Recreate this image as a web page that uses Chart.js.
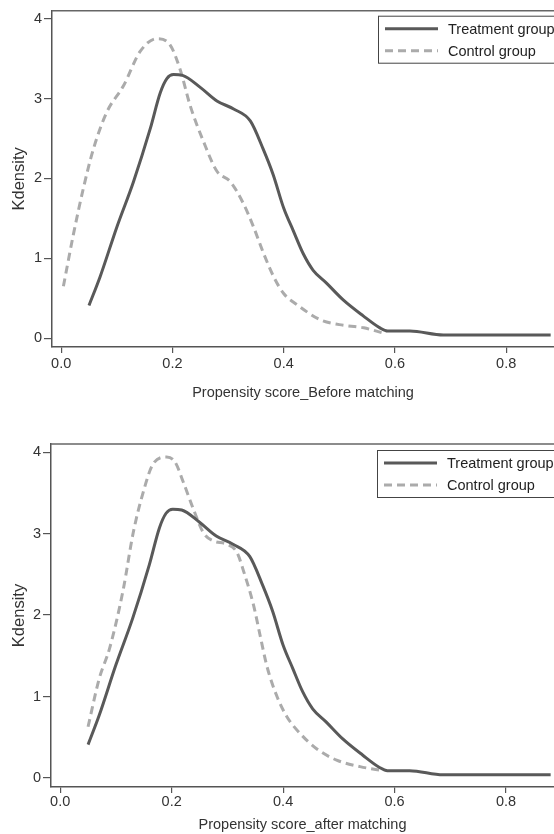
<!DOCTYPE html>
<html>
<head>
<meta charset="utf-8">
<script src="https://cdn.jsdelivr.net/npm/chart.js@4/dist/chart.umd.min.js"></script>
<style>
    html, body { margin: 0; padding: 0; background: #ffffff; overflow: hidden; }
    .panel { position: absolute; left: 0; }
    #panelBefore { top: 0; }
    #panelAfter { top: 405px; }
</style>
</head>
<body>
<div class="panel" id="panelBefore"><canvas id="chartBefore" width="554" height="405"></canvas></div>
<div class="panel" id="panelAfter"><canvas id="chartAfter" width="554" height="429"></canvas></div>

<script>
/* ==========================================
   Kernel density of propensity scores
   before / after matching
   ========================================== */

const xTicks = [0, 0.2, 0.4, 0.6, 0.8];
const yTicks = [0, 1, 2, 3, 4];

const seriesLabels = ["Treatment group", "Control group"];

// treatment group (same sample in both panels)
const treatmentX = [0.05, 0.07, 0.10, 0.13, 0.16, 0.178, 0.19, 0.202, 0.218, 0.25, 0.28, 0.31, 0.34, 0.363, 0.381, 0.40, 0.417, 0.435, 0.453, 0.477, 0.507, 0.543, 0.573, 0.587, 0.627, 0.687, 0.88];
const treatmentY = [0.41, 0.77, 1.39, 1.96, 2.62, 3.07, 3.25, 3.30, 3.29, 3.14, 2.97, 2.87, 2.72, 2.37, 2.05, 1.63, 1.35, 1.06, 0.85, 0.69, 0.48, 0.28, 0.13, 0.09, 0.09, 0.04, 0.04];

// control group before matching
const controlBeforeX = [0.004, 0.022, 0.04, 0.058, 0.082, 0.112, 0.142, 0.172, 0.196, 0.214, 0.232, 0.256, 0.28, 0.304, 0.328, 0.346, 0.364, 0.382, 0.40, 0.424, 0.466, 0.50, 0.544, 0.576];
const controlBeforeY = [0.65, 1.30, 1.88, 2.37, 2.83, 3.16, 3.59, 3.75, 3.67, 3.36, 2.91, 2.46, 2.09, 1.96, 1.68, 1.39, 1.06, 0.77, 0.56, 0.42, 0.23, 0.17, 0.13, 0.07];

// control group after matching
const controlAfterX = [0.05, 0.07, 0.089, 0.113, 0.131, 0.149, 0.167, 0.191, 0.206, 0.221, 0.239, 0.257, 0.275, 0.299, 0.317, 0.329, 0.347, 0.359, 0.371, 0.389, 0.407, 0.43, 0.46, 0.496, 0.538, 0.58];
const controlAfterY = [0.63, 1.22, 1.60, 2.31, 3.01, 3.51, 3.86, 3.94, 3.88, 3.63, 3.30, 3.01, 2.91, 2.87, 2.77, 2.54, 2.12, 1.74, 1.37, 1.00, 0.75, 0.55, 0.36, 0.22, 0.14, 0.09];

const FONT = "'Liberation Sans', Arial, Helvetica, sans-serif";
const TEXT = "#333333";
const AXIS = "#555555";

function points(xs, ys) {
    return xs.map((x, i) => ({ x, y: ys[i] }));
}

// top frame line + boxed legend inside the plot
const frameLegend = {
    id: "frameLegend",
    afterDraw(chart, args, opts) {
        const { ctx, chartArea } = chart;
        ctx.save();

        ctx.strokeStyle = "#666666";
        ctx.lineWidth = 1.5;
        ctx.beginPath();
        ctx.moveTo(chartArea.left, chartArea.top);
        ctx.lineTo(chartArea.right, chartArea.top);
        ctx.stroke();

        const left = chartArea.left + 326;
        const top = chartArea.top + opts.offsetY;

        ctx.fillStyle = "#ffffff";
        ctx.fillRect(left, top, 300, 47);
        ctx.strokeStyle = "#444444";
        ctx.lineWidth = 1;
        ctx.strokeRect(left + 0.5, top + 0.5, 300, 47);

        ctx.font = `14.5px ${FONT}`;
        ctx.textBaseline = "middle";
        ctx.textAlign = "left";

        chart.data.datasets.forEach((ds, i) => {
            const y = top + 13 + i * 22;
            ctx.strokeStyle = ds.borderColor;
            ctx.lineWidth = ds.borderWidth;
            ctx.setLineDash(ds.borderDash || []);
            ctx.beginPath();
            ctx.moveTo(left + 7, y);
            ctx.lineTo(left + 60, y);
            ctx.stroke();
            ctx.setLineDash([]);
            ctx.fillStyle = "#222222";
            ctx.fillText(ds.label, left + 70, y + 1);
        });

        ctx.restore();
    }
};

function renderDensityChart(canvasId, controlX, controlY, xTitle, g) {

    const canvas = document.getElementById(canvasId);

    return new Chart(canvas, {
        type: "line",
        data: {
            datasets: [
                {
                    label: seriesLabels[0],
                    data: points(treatmentX, treatmentY),
                    borderColor: "#595959",
                    borderWidth: 3,
                    pointRadius: 0,
                    cubicInterpolationMode: "monotone",
                    fill: false
                },
                {
                    label: seriesLabels[1],
                    data: points(controlX, controlY),
                    borderColor: "#ababab",
                    borderWidth: 3,
                    borderDash: [8, 5],
                    pointRadius: 0,
                    cubicInterpolationMode: "monotone",
                    fill: false
                }
            ]
        },
        options: {
            responsive: false,
            animation: false,
            layout: {
                padding: { top: g.padTop, left: 0, right: 0, bottom: 0 }
            },
            plugins: {
                legend: { display: false },
                tooltip: { enabled: false },
                frameLegend: { offsetY: g.legendY }
            },
            scales: {
                x: {
                    type: "linear",
                    min: -0.0165,
                    max: 0.886,
                    afterBuildTicks: scale => {
                        scale.ticks = xTicks.map(value => ({ value }));
                    },
                    afterFit: scale => {
                        scale.height = g.xHeight;
                    },
                    ticks: {
                        color: TEXT,
                        font: { family: FONT, size: 14.5 },
                        padding: g.xTickPad,
                        maxRotation: 0,
                        autoSkip: false,
                        callback: value => value.toFixed(1)
                    },
                    grid: {
                        drawOnChartArea: false,
                        tickLength: 6,
                        color: AXIS,
                        lineWidth: 1.2
                    },
                    border: { color: AXIS, width: 1.5 },
                    title: {
                        display: true,
                        text: xTitle,
                        color: TEXT,
                        font: { family: FONT, size: 14.5 },
                        padding: { top: 0, bottom: g.xTitlePad }
                    }
                },
                y: {
                    min: -0.11,
                    max: 4.1,
                    afterBuildTicks: scale => {
                        scale.ticks = yTicks.map(value => ({ value }));
                    },
                    afterFit: scale => {
                        scale.width = g.yWidth;
                    },
                    ticks: {
                        color: TEXT,
                        font: { family: FONT, size: 14.5 },
                        padding: 2,
                        callback: value => String(value)
                    },
                    grid: {
                        drawOnChartArea: false,
                        tickLength: 8,
                        color: AXIS,
                        lineWidth: 1.2
                    },
                    border: { color: AXIS, width: 1.5 },
                    title: {
                        display: true,
                        text: "Kdensity",
                        color: TEXT,
                        font: { family: FONT, size: 16.5 },
                        padding: { top: 10, bottom: 0 }
                    }
                }
            }
        },
        plugins: [frameLegend]
    });
}

renderDensityChart("chartBefore", controlBeforeX, controlBeforeY, "Propensity score_Before matching", {
    padTop: 7, yWidth: 52, xHeight: 58, xTickPad: 2, xTitlePad: 3, legendY: 5
});

renderDensityChart("chartAfter", controlAfterX, controlAfterY, "Propensity score_after matching", {
    padTop: 39, yWidth: 51, xHeight: 47, xTickPad: 0, xTitlePad: 0, legendY: 6
});
</script>
</body>
</html>
